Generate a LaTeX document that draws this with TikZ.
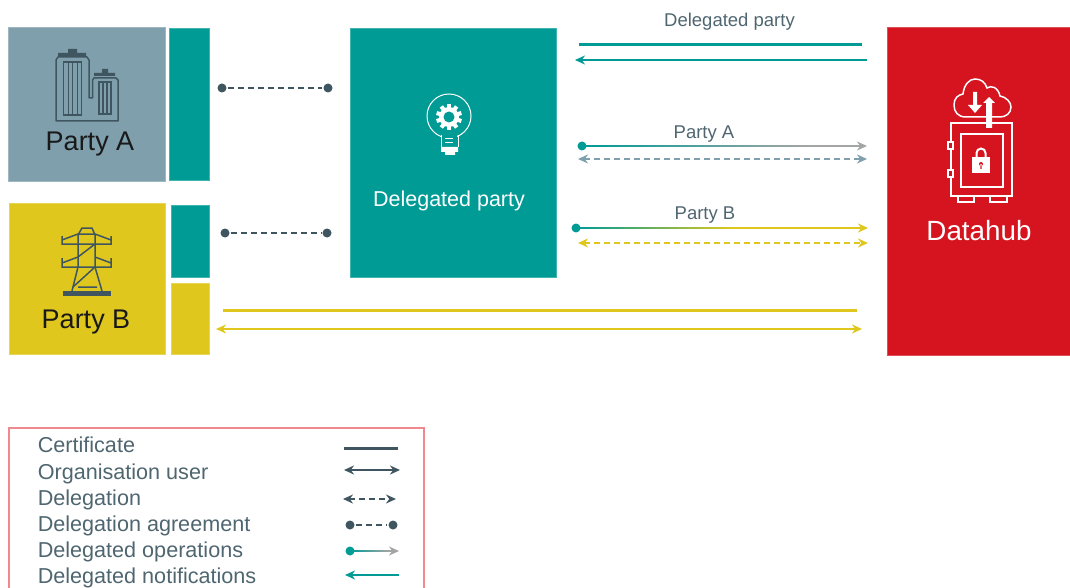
\documentclass[tikz,border=0pt]{standalone}
\usepackage{fontspec}
\setmainfont{Liberation Sans}
\usepackage[dvipsnames]{xcolor}
\usetikzlibrary{arrows.meta,calc}
\definecolor{slate}{HTML}{7F9FAD}
\definecolor{teal}{HTML}{009B95}
\definecolor{gold}{HTML}{DFC71D}
\definecolor{hubred}{HTML}{D5141F}
\definecolor{ink}{HTML}{3F5661}
\definecolor{label}{HTML}{4F6670}
\definecolor{fadegrey}{HTML}{A3A5A5}
\definecolor{frame}{HTML}{F0888F}
\tikzset{
    box/.style={rectangle,fill=#1,draw=#1!75!white,line width=0.7pt,inner sep=0pt},
    dot/.style={circle,fill=#1,inner sep=0pt,minimum size=9pt},
    caption/.style={text=label,font=\fontsize{18.5}{20}\selectfont,inner sep=0pt},
    legendtext/.style={text=label,font=\fontsize{21.6}{24}\selectfont,anchor=west,inner sep=0pt},
    partytext/.style={text=black!90,font=\fontsize{27}{30}\selectfont,inner sep=0pt},
    icon/.style={draw=#1,line width=1.5pt},
    tip/.style={-{Stealth[length=10pt,width=9pt]}},
    tips/.style={{Stealth[length=10pt,width=9pt]}-{Stealth[length=10pt,width=9pt]}},
    tipback/.style={{Stealth[length=10pt,width=9pt]}-},
    dashline/.style={dash pattern=on 6pt off 4pt},
}
% teal fading into #3 over the first #4 of the line from #1 to #2
\newcommand{\fadeline}[4]{
    \foreach \i in {0,...,29} {
        \pgfmathsetmacro{\mix}{100-\i*100/29}
        \pgfmathsetmacro{\from}{\i*#4/30}
        \pgfmathsetmacro{\upto}{(\i+1.3)*#4/30}
        \draw[teal!\mix!#3] ($(#1)!\from!(#2)$) -- ($(#1)!\upto!(#2)$);
    }
}
\begin{document}
\begin{tikzpicture}[x=1pt,y=-1pt,line width=2.6pt]
    \useasboundingbox (0,0) rectangle (1070,588);
    % boxes
    \node[box=slate,minimum width=157pt,minimum height=154pt] (partyA) at (86.5,104) {};
    \node[box=teal,minimum width=40pt,minimum height=152pt] (stripA) at (189,104) {};
    \node[box=gold,minimum width=156pt,minimum height=151pt] (partyB) at (87,278.5) {};
    \node[box=teal,minimum width=38pt,minimum height=72pt] (stripB) at (190,241) {};
    \node[box=gold,minimum width=38pt,minimum height=71pt] (certB) at (190,318.5) {};
    \node[box=teal,minimum width=206pt,minimum height=249pt] (delegate) at (453,152.5) {};
    \node[box=hubred,minimum width=183pt,minimum height=328pt] (datahub) at (978.5,191) {};
    \node[partytext] (partyAtext) at (90,144) {Party A};
    \node[partytext] (partyBtext) at (86,322) {Party B};
    \node[text=white,font=\fontsize{21.5}{24}\selectfont,inner sep=0pt] (delegatetext) at (449,201) {Delegated party};
    \node[text=white,font=\fontsize{27.8}{30}\selectfont,inner sep=0pt] (datahubtext) at (979,231) {Datahub};

    % delegation agreements
    \node[dot=ink] (agreeA) at (222,88) {};
    \node[dot=ink] (agreeAend) at (328,88) {};
    \node[dot=ink] (agreeB) at (225,233) {};
    \node[dot=ink] (agreeBend) at (327,233) {};
    \draw[ink,dashline] (agreeA) -- (agreeAend);
    \draw[ink,dashline] (agreeB) -- (agreeBend);

    % delegated party to datahub
    \node[caption] (delegatelabel) at (729.5,22) {Delegated party};
    \coordinate (certD) at (579,45);
    \coordinate (certDend) at (862,45);
    \coordinate (notifD) at (575,60);
    \coordinate (notifDend) at (867,60);
    \draw[teal,line width=3pt] (certD) -- (certDend);
    \draw[teal,tipback] (notifD) -- (notifDend);

    % party A operations
    \node[caption] (opAlabel) at (704,134) {Party A};
    \node[dot=teal] (opA) at (582,146) {};
    \coordinate (opAend) at (867,146);
    \draw[fadegrey,tip] (opA) -- (opAend);
    \fadeline{opA}{opAend}{fadegrey}{0.8}
    \coordinate (delA) at (578,159);
    \coordinate (delAend) at (867,159);
    \draw[slate,tips,dashline] (delA) -- (delAend);

    % party B operations
    \node[caption] (opBlabel) at (705,215) {Party B};
    \node[dot=teal] (opB) at (576,228) {};
    \coordinate (opBend) at (868,228);
    \draw[gold,tip] (opB) -- (opBend);
    \fadeline{opB}{opBend}{gold}{0.55}
    \coordinate (delB) at (578,243);
    \coordinate (delBend) at (868,243);
    \draw[gold,tips,dashline] (delB) -- (delBend);

    % party B certificate and user
    \coordinate (certP) at (223,310);
    \coordinate (certPend) at (857,310);
    \coordinate (userP) at (216,329);
    \coordinate (userPend) at (862,329);
    \draw[gold,line width=3pt] (certP) -- (certPend);
    \draw[gold,tips] (userP) -- (userPend);

    % legend
    \draw[frame,line width=1.6pt] (9,588) |- (424,428) -- (424,588);
    \node[legendtext] (legcert) at (36.5,445) {Certificate};
    \node[legendtext] (leguser) at (36.5,474) {Organisation user};
    \node[legendtext] (legdeleg) at (36.5,500) {Delegation};
    \node[legendtext] (legagree) at (36.5,526) {Delegation agreement};
    \node[legendtext] (legops) at (36.5,552) {Delegated operations};
    \node[legendtext] (legnotif) at (36.5,578) {Delegated notifications};
    \coordinate (k1) at (344,448);
    \coordinate (k1end) at (398,448);
    \coordinate (k2) at (344,470);
    \coordinate (k2end) at (400,470);
    \coordinate (k3) at (343,499);
    \coordinate (k3end) at (396,499);
    \node[dot=ink] (k4) at (350,525) {};
    \node[dot=ink] (k4end) at (393,525) {};
    \node[dot=teal] (k5) at (350,551) {};
    \coordinate (k5end) at (399,551);
    \coordinate (k6) at (345,575);
    \coordinate (k6end) at (399,575);
    \draw[ink,line width=3pt] (k1) -- (k1end);
    \draw[ink,tips] (k2) -- (k2end);
    \draw[ink,tips,dashline] (k3) -- (k3end);
    \draw[ink,dashline] (k4) -- (k4end);
    \draw[fadegrey,tip] (k5) -- (k5end);
    \fadeline{k5}{k5end}{fadegrey}{0.8}
    \draw[teal,tipback] (k6) -- (k6end);

    % buildings icon
    \draw[icon=ink,line join=round] (89,60) -- (89,98) -- (92.5,98) -- (92.5,80) -- (94,78) -- (116,78) -- (118,80) -- (118,121) -- (56,121) -- (56,60) -- (58,57) -- (87,57) -- cycle;
    \fill[ink] (68,49) rectangle (77,53) (58,53) rectangle (86,56) (102,69) rectangle (108,73) (94,73) rectangle (115,76);
    \draw[icon=ink] (63.3,62) rectangle (81.7,115) (68.3,62) -- (68.3,115) (72.7,62) -- (72.7,115) (77.3,62) -- (77.3,115);
    \draw[icon=ink] (99,82) rectangle (111,114) (103,82) -- (103,114) (107,82) -- (107,114);

    % tower icon
    \fill[ink] (63,291) rectangle (111,296);
    \draw[icon=ink] (72,291) -- (78,267) -- (78,235) -- (82,228) -- (92,228) -- (95,235) -- (95,267) -- (102,291);
    \draw[icon=ink] (62,236) -- (62,244) -- (111,244) -- (111,236) (62,240) -- (78,234) -- (95,234) -- (111,240);
    \draw[icon=ink] (62,258) -- (62,267) -- (111,267) -- (111,258) (62,263) -- (78,257) (95,257) -- (111,263);
    \draw[icon=ink] (78,257) -- (95,244) (73,287) -- (95,267) (78,287) -- (97,287);

    % bulb icon
    \draw[white,line width=1pt] (449,116) circle[radius=22];
    \fill[teal] (442,134) rectangle (457,140);
    \draw[white,line width=1pt] (441,135) -- (441,147) (458,135) -- (458,147);
    \fill[white] (441,147) rectangle (458,152) (445,152) rectangle (455,155);
    \draw[white,line width=1pt] (445,139) -- (453,139) (445,143) -- (453,143);
    \fill[white] (449,117) circle[radius=10];
    \foreach \a in {0,36,...,324} {
        \fill[white,rotate around={\a:(449,117)}] (447,104) rectangle (451,110);
    }
    \fill[teal] (449,117) circle[radius=5.5];

    % datahub icon
    \draw[icon=white] (966,117) .. controls (958,117) and (954,112) .. (954,105) .. controls (954,98) and (958,95) .. (963,94) .. controls (964,85) and (969,79) .. (975,79) .. controls (981,79) and (985,82) .. (987,88) .. controls (991,85) and (998,87) .. (1000,96) .. controls (1006,97) and (1011,102) .. (1011,107) .. controls (1011,113) and (1006,117) .. (1000,117) -- cycle;
    \draw[icon=white] (951,123) rectangle (1012,196) (961,134) rectangle (1003,187);
    \draw[icon=white,fill=hubred] (948,142) rectangle (953,149) (948,170) rectangle (953,177);
    \draw[icon=white] (958,196) rectangle (974,202) (990,196) rectangle (1007,202);
    \draw[white,line width=2pt] (976.5,158) -- (976.5,153) arc[start angle=180,end angle=360,radius=4.5] -- (985.5,158);
    \fill[white] (972,157) rectangle (990,173);
    \fill[hubred] (981,164) circle[radius=2] (980.3,164) rectangle (981.7,169);
    \fill[white] (973,92) -- (977,92) -- (977,105) -- (982,105) -- (975,113) -- (968,105) -- (973,105) -- cycle;
    \fill[white] (986,128) -- (992,128) -- (992,103) -- (995,103) -- (989,97) -- (983,103) -- (986,103) -- cycle;
\end{tikzpicture}
\end{document}
